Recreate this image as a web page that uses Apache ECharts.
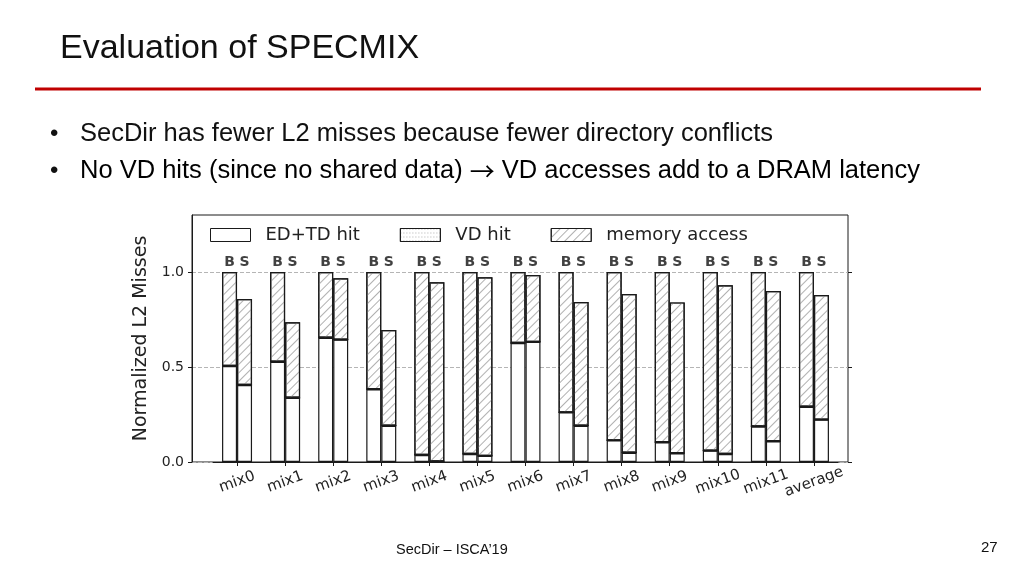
<!DOCTYPE html>
<html><head><meta charset="utf-8">
<script src="https://cdn.jsdelivr.net/npm/echarts@6/dist/echarts.min.js"></script>
<style>html,body{margin:0;padding:0;background:#fff}#c{width:1024px;height:576px}</style>
</head><body><div id="c"></div>
<script>
const categories = ['mix0','mix1','mix2','mix3','mix4','mix5','mix6','mix7','mix8','mix9','mix10','mix11','average'];
const bTotal = [1,1,1,1,1,1,1,1,1,1,1,1,1];
const bEdTd  = [0.505,0.528,0.654,0.383,0.037,0.042,0.626,0.261,0.114,0.104,0.060,0.187,0.291];
const bVdHit = [0,0,0,0,0,0,0,0,0,0,0,0,0];
const sTotal = [0.858,0.735,0.967,0.695,0.946,0.972,0.984,0.842,0.884,0.840,0.930,0.900,0.879];
const sEdTd  = [0.405,0.338,0.644,0.191,0.003,0.032,0.632,0.191,0.049,0.046,0.042,0.109,0.223];
const sVdHit = [0,0,0,0,0,0,0,0,0,0,0,0,0];
const seriesNames = ['ED+TD hit','VD hit','memory access'];
const yTicks = [0, 0.5, 1.0];
const pairLabels = ['B','S'];
const titleText = 'Evaluation of SPECMIX';
const bullet1 = 'SecDir has fewer L2 misses because fewer directory conflicts';
const bullet2a = 'No VD hits (since no shared data) ';
const bullet2arrow = '\u2192';
const bullet2b = ' VD accesses add to a DRAM latency';
const footer = 'SecDir \u2013 ISCA\u201919';
const pageNo = '27';

const chartFont = 'DejaVu Sans';
const edge = '#1a1a1a';
const hatch = {symbol:'rect', symbolSize:1, color:'#b0b0b0', dashArrayX:[1,0], dashArrayY:[1,5], rotation:-Math.PI/4};
const dots = {symbol:'circle', symbolSize:1, color:'#999', dashArrayX:[[1,2]], dashArrayY:[1,3]};

const groups = [
  {stack:'B', ed:bEdTd, vd:bVdHit, total:bTotal},
  {stack:'S', ed:sEdTd, vd:sVdHit, total:sTotal}
];
const series = [];
groups.forEach(g => {
  const mem = g.total.map((t,i) => +(t - g.ed[i] - g.vd[i]).toFixed(4));
  const parts = [g.ed, g.vd, mem];
  parts.forEach((d, k) => {
    const style = {color:'#fff', borderColor:edge, borderWidth:1.2};
    if (k === 1) style.decal = dots;
    if (k === 2) style.decal = hatch;
    series.push({
      type:'bar', name:seriesNames[k], stack:g.stack, xAxisIndex:1, yAxisIndex:2,
      barWidth:15, barGap:'0%', data:d, itemStyle:style, silent:true
    });
  });
});
series.push({
  type:'scatter', xAxisIndex:1, yAxisIndex:2, symbolSize:0, silent:true,
  data: categories.map(c => [c, 1.053]),
  label:{show:true, position:'inside', formatter:'{b|' + pairLabels[0] + '}{s|' + pairLabels[1] + '}',
    rich:{b:{width:15, align:'center', fontFamily:chartFont, fontSize:14, fontWeight:'bold', color:'#111'},
          s:{width:15, align:'center', fontFamily:chartFont, fontSize:14, fontWeight:'bold', color:'#111'}}}
});

const chart = echarts.init(document.getElementById('c'), null, {renderer:'canvas'});
chart.setOption({
  backgroundColor:'#fff',
  animation:false,
  grid:[
    {left:192, top:215, width:656, height:247, show:true, borderColor:edge, borderWidth:1, backgroundColor:'transparent'},
    {left:213, top:215, width:625, height:247}
  ],
  legend:{
    data:seriesNames, left:210, top:226, padding:0, itemWidth:40, itemHeight:13, itemGap:40, icon:'rect',
    itemStyle:{borderWidth:1},
    textStyle:{fontFamily:chartFont, fontSize:18, color:'#222', padding:[0,0,0,10]}
  },
  xAxis:[
    {type:'value', gridIndex:0, min:0, max:1, show:false},
    {type:'category', gridIndex:1, data:categories,
      axisLine:{show:true, lineStyle:{color:edge, width:1}},
      axisTick:{show:true, alignWithLabel:true, length:4, lineStyle:{color:edge}},
      axisLabel:{interval:0, rotate:20, align:'center', verticalAlign:'middle', margin:20,
        fontFamily:chartFont, fontSize:15, color:'#222'}}
  ],
  yAxis:[
    {type:'value', gridIndex:0, min:0, max:1.3, interval:0.5, position:'left',
      axisLine:{show:true, lineStyle:{color:edge}},
      axisTick:{show:true, length:4, customValues:yTicks, lineStyle:{color:edge}},
      axisLabel:{customValues:yTicks, formatter:v => v.toFixed(1), fontFamily:chartFont, fontSize:14, color:'#222', margin:8},
      splitLine:{show:true, lineStyle:{type:'dashed', color:'#b5b5b5', width:1}},
      name:'Normalized L2 Misses', nameLocation:'middle', nameGap:40,
      nameTextStyle:{fontFamily:chartFont, fontSize:19, color:'#222'}},
    {type:'value', gridIndex:0, min:0, max:1.3, interval:0.5, position:'right',
      axisLine:{show:false}, axisTick:{show:true, length:4, customValues:yTicks, lineStyle:{color:edge}},
      axisLabel:{show:false}, splitLine:{show:false}},
    {type:'value', gridIndex:1, min:0, max:1.3, show:false}
  ],
  series:series,
  graphic:[
    {type:'text', left:60, top:32, style:{text:titleText, font:'34px "Liberation Sans"', fill:'#111'}},
    {type:'rect', shape:{x:35, y:87.5, width:946, height:3}, style:{fill:'#c00000'}},
    {type:'text', left:50, top:122, style:{text:'\u2022', font:'24px "Liberation Sans"', fill:'#111'}},
    {type:'text', left:80, top:121, style:{text:bullet1, font:'25.5px "Liberation Sans"', fill:'#111'}},
    {type:'text', left:50, top:159, style:{text:'\u2022', font:'24px "Liberation Sans"', fill:'#111'}},
    {type:'text', left:80, top:158, style:{
      text:'{t|' + bullet2a + '}{a|' + bullet2arrow + '}{t|' + bullet2b + '}',
      rich:{t:{fontFamily:'Liberation Sans', fontSize:25.5, color:'#111'},
            a:{fontFamily:'Noto Sans CJK SC', fontSize:25, fontWeight:'normal', color:'#111'}}}},
    {type:'text', left:396, top:542, style:{text:footer, font:'14.5px "Liberation Sans"', fill:'#111'}},
    {type:'text', left:981, top:540, style:{text:pageNo, font:'15px "Liberation Sans"', fill:'#111'}}
  ]
});
</script></body></html>
